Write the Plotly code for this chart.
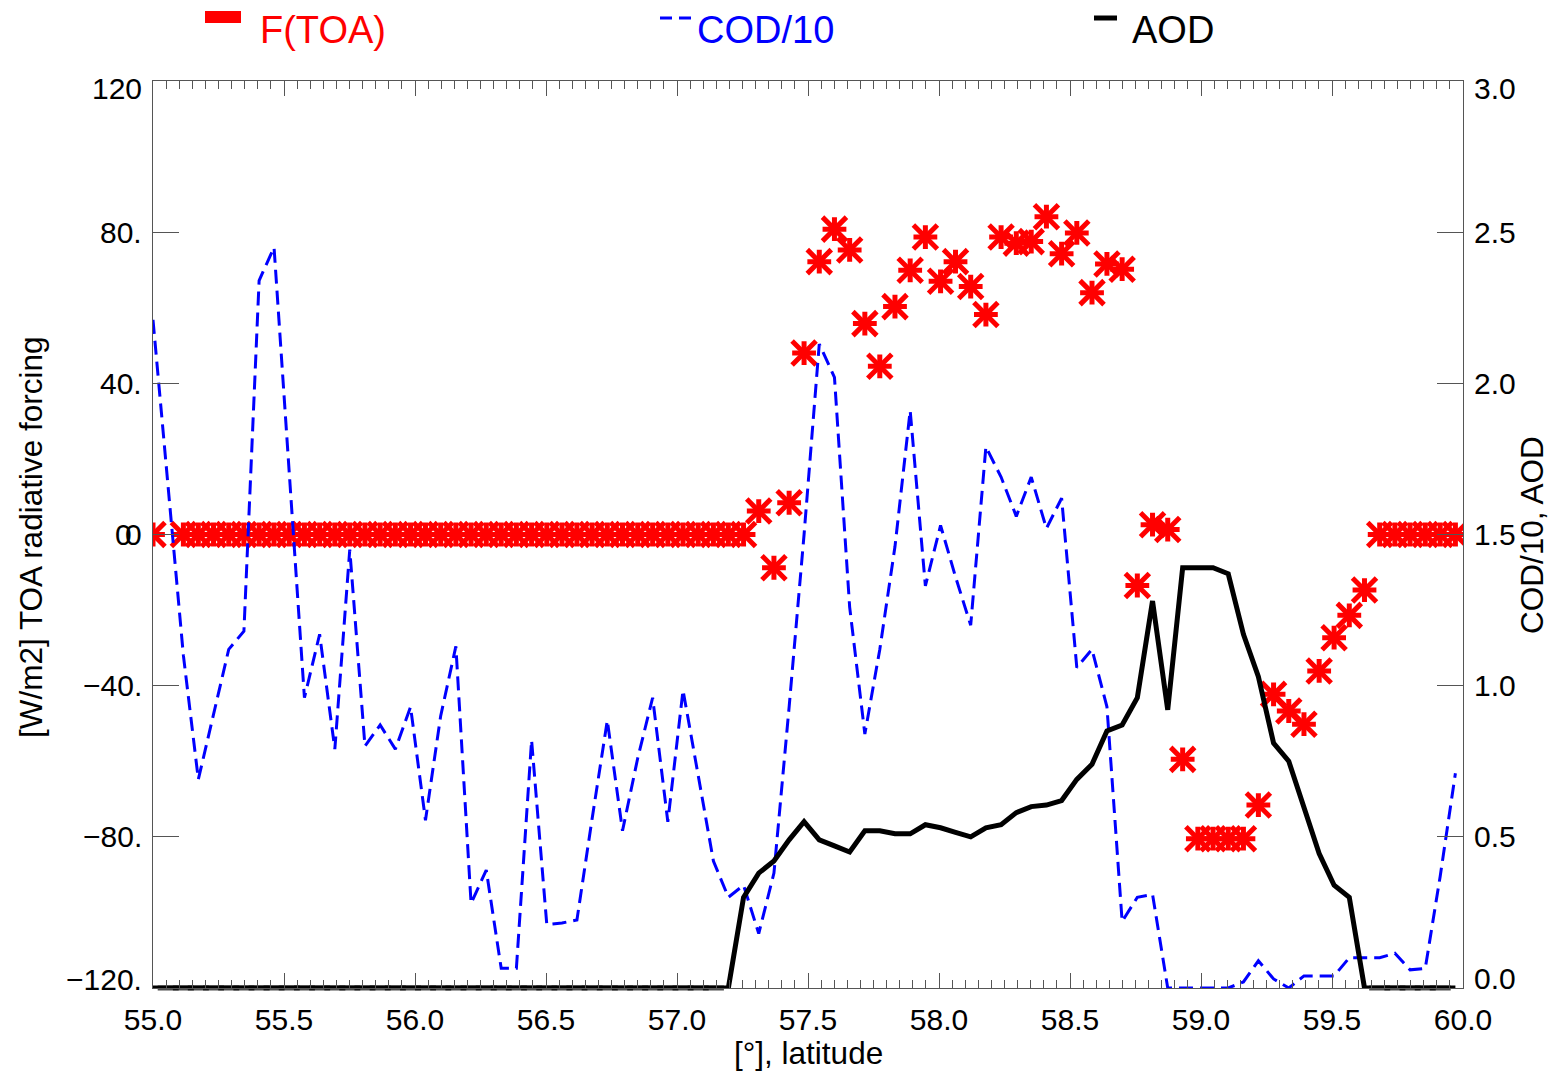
import plotly.graph_objects as go

# ---------------- data ----------------
lat = [55.000, 55.058, 55.116, 55.173, 55.231, 55.289, 55.347, 55.405, 55.462, 55.520,
       55.578, 55.636, 55.694, 55.751, 55.809, 55.867, 55.925, 55.983, 56.040, 56.098,
       56.156, 56.214, 56.272, 56.329, 56.387, 56.445, 56.503, 56.561, 56.618, 56.676,
       56.734, 56.792, 56.850, 56.907, 56.965, 57.023, 57.081, 57.139, 57.196, 57.254,
       57.312, 57.370, 57.428, 57.485, 57.543, 57.601, 57.659, 57.717, 57.774, 57.832,
       57.890, 57.948, 58.006, 58.063, 58.121, 58.179, 58.237, 58.295, 58.352, 58.410,
       58.468, 58.526, 58.584, 58.641, 58.699, 58.757, 58.815, 58.873, 58.930, 58.988,
       59.046, 59.104, 59.162, 59.219, 59.277, 59.335, 59.393, 59.451, 59.508, 59.566,
       59.624, 59.682, 59.740, 59.798, 59.856, 59.913, 59.971]

f_toa = [0, None, 0, 0, 0, 0, 0, 0, 0, 0,
         0, 0, 0, 0, 0, 0, 0, 0, 0, 0,
         0, 0, 0, 0, 0, 0, 0, 0, 0, 0,
         0, 0, 0, 0, 0, 0, 0, 0, 0, 0,
         6.2, -8.8, 8.4, 48.0, 72.2, 80.8, 75.3, 55.8, 44.5, 60.3,
         69.9, 78.7, 67.0, 72.2, 65.6, 58.2, 78.7, 77.1, 77.5, 84.1,
         74.3, 79.8, 64.0, 71.6, 70.2, -13.5, 2.6, 1.3, -59.5, -80.5,
         -80.5, -80.5, -80.5, -71.6, -42.3, -46.7, -50.2, -36.1, -27.3, -21.4,
         -14.7, 0, 0, 0, 0, 0, 0]

cod10 = [2.21, 1.65, 1.10, 0.69, 0.91, 1.12, 1.18, 2.34, 2.45, 1.71,
         0.96, 1.17, 0.79, 1.45, 0.80, 0.87, 0.79, 0.93, 0.555, 0.90,
         1.13, 0.28, 0.39, 0.065, 0.065, 0.82, 0.21, 0.215, 0.225, 0.56,
         0.885, 0.52, 0.76, 0.96, 0.55, 0.985, 0.70, 0.42, 0.30, 0.34,
         0.18, 0.38, 0.93, 1.50, 2.13, 2.02, 1.26, 0.84, 1.12, 1.46,
         1.91, 1.33, 1.53, 1.36, 1.20, 1.79, 1.69, 1.56, 1.69, 1.52,
         1.62, 1.06, 1.12, 0.93, 0.22, 0.30, 0.31, 0.0, 0.0, 0.0,
         0.0, 0.0, 0.02, 0.09, 0.03, 0.0, 0.04, 0.04, 0.04, 0.10,
         0.10, 0.10, 0.115, 0.06, 0.065, 0.37, 0.71]

aod = [0, 0, 0, 0, 0, 0, 0, 0, 0, 0,
       0, 0, 0, 0, 0, 0, 0, 0, 0, 0,
       0, 0, 0, 0, 0, 0, 0, 0, 0, 0,
       0, 0, 0, 0, 0, 0, 0, 0, 0, 0.30,
       0.38, 0.42, 0.49, 0.55, 0.49, 0.47, 0.45, 0.52, 0.52, 0.51,
       0.51, 0.54, 0.53, 0.515, 0.50, 0.53, 0.54, 0.58, 0.60, 0.605,
       0.62, 0.69, 0.74, 0.85, 0.87, 0.96, 1.28, 0.92, 1.39, 1.39,
       1.39, 1.37, 1.17, 1.03, 0.81, 0.75, 0.60, 0.445, 0.34, 0.30,
       0, 0, 0, 0, 0, 0, 0]

x_tick_vals = [55.0, 55.5, 56.0, 56.5, 57.0, 57.5, 58.0, 58.5, 59.0, 59.5, 60.0]
left_tick_vals = [120, 80, 40, 0, -40, -80, -120]
left_tick_text = ["120", "80.", "40.", "0", "\u221240.", "\u221280.", "\u2212120."]
right_tick_vals = [3.0, 2.5, 2.0, 1.5, 1.0, 0.5, 0.0]
right_tick_text = ["3.0", "2.5", "2.0", "1.5", "1.0", "0.5", "0.0"]

legend_names = ["F(TOA)", "COD/10", "AOD"]
x_title = "[\u00b0], latitude"
y_title = "[W/m2] TOA radiative forcing"
y2_title = "COD/10, AOD"

# ---------------- layout geometry (pixels) ----------------
W, H = 1555, 1071
L, R, T, B = 153, 1463, 81, 988
PW, PH = R - L, B - T
FONT = "Liberation Sans, Arial, Helvetica, sans-serif"
AX = "#555555"


def px(xp):
    return (xp - L) / PW


def py(yp):
    return (B - yp) / PH


fig = go.Figure()

# F(TOA) asterisks (cross + x)
fig.add_trace(go.Scatter(x=lat, y=f_toa, mode="markers", yaxis="y", showlegend=False,
                         marker=dict(symbol="cross-thin-open", size=17, color="#ff0000",
                                     line=dict(color="#ff0000", width=5))))
fig.add_trace(go.Scatter(x=lat, y=f_toa, mode="markers", yaxis="y", showlegend=False,
                         marker=dict(symbol="x-thin-open", size=24, color="#ff0000",
                                     line=dict(color="#ff0000", width=5))))
# COD/10
fig.add_trace(go.Scatter(x=lat, y=cod10, mode="lines", yaxis="y2", showlegend=False,
                         line=dict(color="#0000ff", width=3, dash="14px,7px")))
# AOD (the zero stretches lie on the bottom axis; short unclipped dashes keep them thick)
inner_zero = [1 if (v == 0 and 0 < i < len(aod) - 1 and aod[i - 1] == 0 and aod[i + 1] == 0) else 0
              for i, v in enumerate(aod)]
fig.add_trace(go.Scatter(x=lat, y=aod, mode="lines+markers", yaxis="y2", showlegend=False,
                         cliponaxis=False,
                         line=dict(color="#000000", width=5),
                         marker=dict(symbol="line-ew-open", size=[15 * z for z in inner_zero],
                                     color="#000000", line=dict(color="#000000", width=5))))

annotations = []
# left tick labels
for v, t in zip(left_tick_vals, left_tick_text):
    ys = 0
    if v == max(left_tick_vals):
        ys = -7
    if v == min(left_tick_vals):
        ys = 9
    annotations.append(dict(x=0, xref="paper", y=v, yref="y", text=t, showarrow=False,
                            xanchor="right", yanchor="middle", xshift=-9, yshift=ys,
                            font=dict(family=FONT, size=30, color="black")))
# overlapping second zero on left
annotations.append(dict(x=0, xref="paper", y=0, yref="y", text="0", showarrow=False,
                        xanchor="right", yanchor="middle", xshift=-19,
                        font=dict(family=FONT, size=30, color="black")))
# right tick labels
for v, t in zip(right_tick_vals, right_tick_text):
    ys = 0
    if v == max(right_tick_vals):
        ys = -7
    if v == min(right_tick_vals):
        ys = 10
    annotations.append(dict(x=1, xref="paper", y=v, yref="y2", text=t, showarrow=False,
                            xanchor="left", yanchor="middle", xshift=9, yshift=ys,
                            font=dict(family=FONT, size=30, color="black")))
# axis titles
annotations.append(dict(x=0.5, xref="paper", y=py(1053), yref="paper", text=x_title,
                        showarrow=False, xanchor="center", yanchor="middle",
                        font=dict(family=FONT, size=31.5, color="black")))
annotations.append(dict(x=px(31), xref="paper", y=py(537), yref="paper", text=y_title,
                        showarrow=False, textangle=-90, xanchor="center", yanchor="middle",
                        font=dict(family=FONT, size=31.5, color="black")))
annotations.append(dict(x=px(1532), xref="paper", y=py(535), yref="paper", text=y2_title,
                        showarrow=False, textangle=-90, xanchor="center", yanchor="middle",
                        font=dict(family=FONT, size=31.5, color="black")))
# legend texts
for name, xl, col in zip(legend_names, [258, 695, 1130], ["#ff0000", "#0000ff", "#000000"]):
    annotations.append(dict(x=px(xl), xref="paper", y=py(30), yref="paper", text=name,
                            showarrow=False, xanchor="left", yanchor="middle",
                            font=dict(family=FONT, size=38, color=col)))

shapes = [
    dict(type="rect", xref="paper", yref="paper", x0=px(205), x1=px(241), y0=py(23), y1=py(11),
         fillcolor="#ff0000", line=dict(width=0)),
    dict(type="line", xref="paper", yref="paper", x0=px(660), x1=px(691), y0=py(18), y1=py(18),
         line=dict(color="#0000ff", width=3, dash="12px,7px")),
    dict(type="line", xref="paper", yref="paper", x0=px(1094), x1=px(1117), y0=py(18), y1=py(18),
         line=dict(color="#000000", width=5)),
]

fig.update_layout(
    width=W, height=H,
    margin=dict(l=L, r=W - R, t=T, b=H - B, pad=0),
    paper_bgcolor="white", plot_bgcolor="white",
    showlegend=False,
    font=dict(family=FONT, size=30, color="black"),
    xaxis=dict(range=[55, 60], tickvals=x_tick_vals, tickformat=".1f",
               ticks="inside", ticklen=15, tickwidth=1, tickcolor=AX,
               minor=dict(dtick=0.05, ticks="inside", ticklen=8, tickwidth=1, tickcolor=AX),
               showline=True, linecolor=AX, linewidth=1, mirror="ticks",
               showgrid=False, zeroline=False, ticklabelstandoff=5,
               tickfont=dict(family=FONT, size=30, color="black")),
    yaxis=dict(range=[-120, 120], tickvals=left_tick_vals, ticks="inside", ticklen=26,
               tickwidth=1, tickcolor=AX, showticklabels=False,
               showline=True, linecolor=AX, linewidth=1,
               showgrid=False, zeroline=False),
    yaxis2=dict(range=[0, 3], tickvals=right_tick_vals, ticks="inside", ticklen=26,
                tickwidth=1, tickcolor=AX, showticklabels=False, overlaying="y", side="right",
                showline=True, linecolor=AX, linewidth=1,
                showgrid=False, zeroline=False),
    annotations=annotations,
    shapes=shapes,
)

fig.write_html("out.html")
